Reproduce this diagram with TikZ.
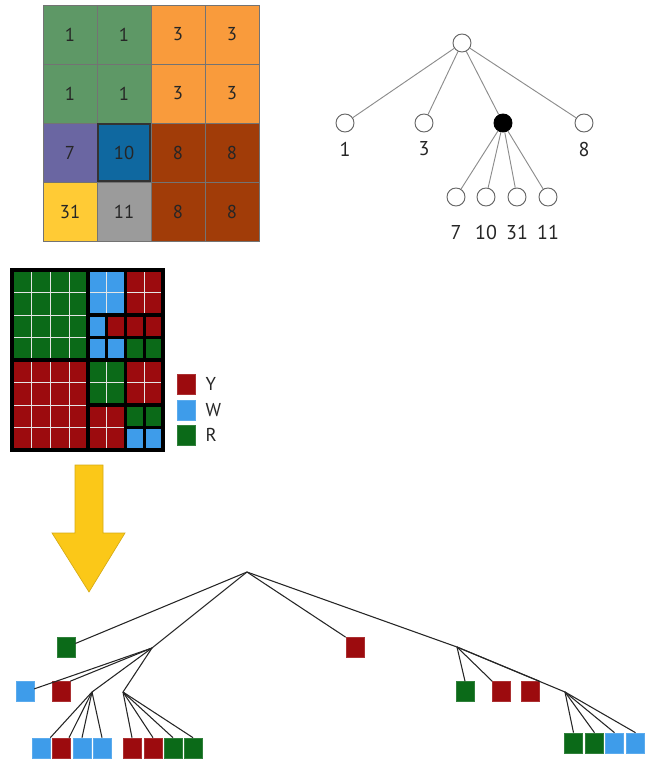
\documentclass[tikz,border=0pt]{standalone}
\usepackage{fontspec}
\setmainfont{PT Sans}
\definecolor{cgreen}{HTML}{5E9866}
\definecolor{corange}{HTML}{F99B3C}
\definecolor{cpurple}{HTML}{6A66A2}
\definecolor{cblue}{HTML}{0F68A0}
\definecolor{cbrown}{HTML}{A13C08}
\definecolor{cyellow}{HTML}{FFCB35}
\definecolor{cgray}{HTML}{9B9B9B}
\definecolor{qred}{HTML}{9C0B0E}
\definecolor{qblue}{HTML}{3E9CEA}
\definecolor{qgreen}{HTML}{0B6A18}
\definecolor{arrowy}{HTML}{FBC818}
\begin{document}
\begin{tikzpicture}[x=0.75pt,y=-0.75pt,
  cell/.style={draw=black!55, line width=0.6pt, minimum width={54*0.75pt}, minimum height={59*0.75pt}, inner sep=0pt, font=\fontsize{14}{16}\selectfont, text=black!85},
  tnode/.style={circle, draw=black!60, line width=0.7pt, fill=white, minimum size={18*0.75pt}, inner sep=0pt},
  tedge/.style={draw=black!45, line width=0.7pt},
  tlabel/.style={font=\fontsize{15}{17}\selectfont, text=black!85},
  klabel/.style={font=\fontsize{14}{16}\selectfont, text=black!85},
  sq/.style={draw=#1!85!white, fill=#1, line width=0.5pt, minimum width={18*0.75pt}, minimum height={20*0.75pt}, inner sep=0pt},
  bedge/.style={draw=black!85, line width=0.8pt},
  thick black/.style={line width=2.6pt, draw=black},
  wline/.style={line width=0.6pt, draw=white!90!black}
]
\useasboundingbox (0,0) rectangle (647,760);

% ---------------- top grid
\node[cell, fill=cgreen]  (g11) at (70,34.5) {1};
\node[cell, fill=cgreen]  (g12) at (124,34.5) {1};
\node[cell, fill=corange] (g13) at (178,34.5) {3};
\node[cell, fill=corange] (g14) at (232,34.5) {3};
\node[cell, fill=cgreen]  (g21) at (70,93.5) {1};
\node[cell, fill=cgreen]  (g22) at (124,93.5) {1};
\node[cell, fill=corange] (g23) at (178,93.5) {3};
\node[cell, fill=corange] (g24) at (232,93.5) {3};
\node[cell, fill=cpurple] (g31) at (70,152.5) {7};
\node[cell, fill=cbrown]  (g33) at (178,152.5) {8};
\node[cell, fill=cbrown]  (g34) at (232,152.5) {8};
\node[cell, fill=cyellow] (g41) at (70,211.5) {31};
\node[cell, fill=cgray]   (g42) at (124,211.5) {11};
\node[cell, fill=cbrown]  (g43) at (178,211.5) {8};
\node[cell, fill=cbrown]  (g44) at (232,211.5) {8};
\node[cell, fill=cblue, draw=black!80, line width=2.2pt, minimum width={52*0.75pt}, minimum height={57*0.75pt}] (g32) at (124,152.5) {10};

% ---------------- top tree
\node[tnode] (root) at (462,43) {};
\node[tnode] (n1) at (345,123) {};
\node[tnode] (n3) at (424,123) {};
\node[tnode, fill=black, draw=black] (nx) at (503,123) {};
\node[tnode] (n8) at (584,123) {};
\node[tnode] (n7) at (456,197) {};
\node[tnode] (n10) at (486,197) {};
\node[tnode] (n31) at (517,197) {};
\node[tnode] (n11) at (548,197) {};
\foreach \c in {n1,n3,nx,n8} \draw[tedge] (root) -- (\c);
\foreach \c in {n7,n10,n31,n11} \draw[tedge] (nx) -- (\c);
\node[tlabel] (l1) at (345,149) {1};
\node[tlabel] (l3) at (424,149) {3};
\node[tlabel] (l8) at (584,149) {8};
\node[tlabel] (l7) at (456,232) {7};
\node[tlabel] (l10) at (486,232) {10};
\node[tlabel] (l31) at (517,232) {31};
\node[tlabel] (l11) at (548,232) {11};

% ---------------- quadtree grid
\fill[qgreen] (12,270) rectangle (88,360);
\fill[qred] (12,360) rectangle (88,450);
\foreach \x in {31,50,69} {\draw[wline] (\x,270) -- (\x,450);}
\foreach \y in {292.5,315,337.5,382.5,405,427.5} {\draw[wline] (12,\y) -- (88,\y);}
\fill[qblue] (88,270) rectangle (125.5,315);
\fill[qred] (125.5,270) rectangle (163,315);
\fill[qgreen] (88,360) rectangle (125.5,405);
\fill[qred] (125.5,360) rectangle (163,405);
\fill[qred] (88,405) rectangle (125.5,450);
\draw[wline] (106.75,270) -- (106.75,315) (88,292.5) -- (163,292.5) (144.25,270) -- (144.25,315);
\draw[wline] (106.75,360) -- (106.75,450) (88,382.5) -- (163,382.5) (144.25,360) -- (144.25,405) (88,427.5) -- (125.5,427.5);
\fill[qblue] (88,315) rectangle (106.75,337.5);
\fill[qred] (106.75,315) rectangle (125.5,337.5);
\fill[qblue] (88,337.5) rectangle (106.75,360);
\fill[qblue] (106.75,337.5) rectangle (125.5,360);
\fill[qred] (125.5,315) rectangle (144.25,337.5);
\fill[qred] (144.25,315) rectangle (163,337.5);
\fill[qgreen] (125.5,337.5) rectangle (144.25,360);
\fill[qgreen] (144.25,337.5) rectangle (163,360);
\fill[qgreen] (125.5,405) rectangle (144.25,427.5);
\fill[qgreen] (144.25,405) rectangle (163,427.5);
\fill[qblue] (125.5,427.5) rectangle (144.25,450);
\fill[qblue] (144.25,427.5) rectangle (163,450);
\draw[thick black] (88,270) -- (88,450) (12,360) -- (163,360) (125.5,270) -- (125.5,450)
  (88,315) -- (163,315) (88,405) -- (163,405)
  (106.75,315) -- (106.75,360) (144.25,315) -- (144.25,360) (88,337.5) -- (163,337.5)
  (144.25,405) -- (144.25,450) (125.5,427.5) -- (163,427.5);
\draw[line width=3pt, draw=black] (12,270) rectangle (163,450);

% legend
\node[sq=qred] (ky) at (186,384) {};
\node[sq=qblue] (kw) at (186,410) {};
\node[sq=qgreen] (kr) at (186,435) {};
\node[anchor=west, klabel] (ty) at (201,384) {Y};
\node[anchor=west, klabel] (tw) at (201,410) {W};
\node[anchor=west, klabel] (tr) at (201,435) {R};

% arrow
\filldraw[fill=arrowy, draw=arrowy!85!black, line width=0.5pt]
  (75,465) -- (103,465) -- (103,533) -- (125,533) -- (89,592) -- (52,533) -- (75,533) -- cycle;

% ---------------- bottom tree
\coordinate (R) at (247,572);
\coordinate (J1) at (152,648);
\coordinate (J1a) at (92,692);
\coordinate (J1b) at (123,692);
\coordinate (J3) at (457,647);
\coordinate (J4) at (565,692);

\node[sq=qgreen] (G1) at (66,647.5) {};
\node[sq=qred] (Rm) at (355,647.5) {};
\node[sq=qblue] (B1) at (25,691.5) {};
\node[sq=qred] (R1) at (61,691.5) {};

\node[sq=qblue] (a1) at (41,748) {};
\node[sq=qred] (a2) at (61,748) {};
\node[sq=qblue] (a3) at (82,748) {};
\node[sq=qblue] (a4) at (102,748) {};
\node[sq=qred] (b1) at (132,748) {};
\node[sq=qred] (b2) at (153,748) {};
\node[sq=qgreen] (b3) at (173,748) {};
\node[sq=qgreen] (b4) at (193,748) {};

\node[sq=qgreen] (c1) at (465,691.5) {};
\node[sq=qred] (c2) at (501.5,691.5) {};
\node[sq=qred] (c3) at (530,691.5) {};

\node[sq=qgreen] (d1) at (573.5,743) {};
\node[sq=qgreen] (d2) at (594.5,743) {};
\node[sq=qblue] (d3) at (614.5,743) {};
\node[sq=qblue] (d4) at (635.5,743) {};

\draw[bedge] (R) -- ([yshift=3pt]G1.east);
\draw[bedge] (R) -- (J1);
\draw[bedge] (R) -- (Rm.north west);
\draw[bedge] (R) -- (J3) -- (J4);
\draw[bedge] (J1) -- ([yshift=2pt]B1.east);
\draw[bedge] (J1) -- (R1.north east);
\draw[bedge] (J1) -- (J1a);
\draw[bedge] (J1) -- (J1b);
\draw[bedge] (J1a) -- (a1.north east);
\draw[bedge] (J1a) -- ([xshift=-1pt]a2.north east);
\draw[bedge] (J1a) -- (a3.north);
\draw[bedge] (J1a) -- (a4.north);
\foreach \c in {b1,b2,b3,b4} \draw[bedge] (J1b) -- (\c.north);
\draw[bedge] (J3) -- (c1.north);
\draw[bedge] (J3) -- (c2.north west);
\draw[bedge] (J3) -- (c3.north east);
\foreach \c in {d1,d2,d3,d4} \draw[bedge] (J4) -- (\c.north);
\end{tikzpicture}
\end{document}
